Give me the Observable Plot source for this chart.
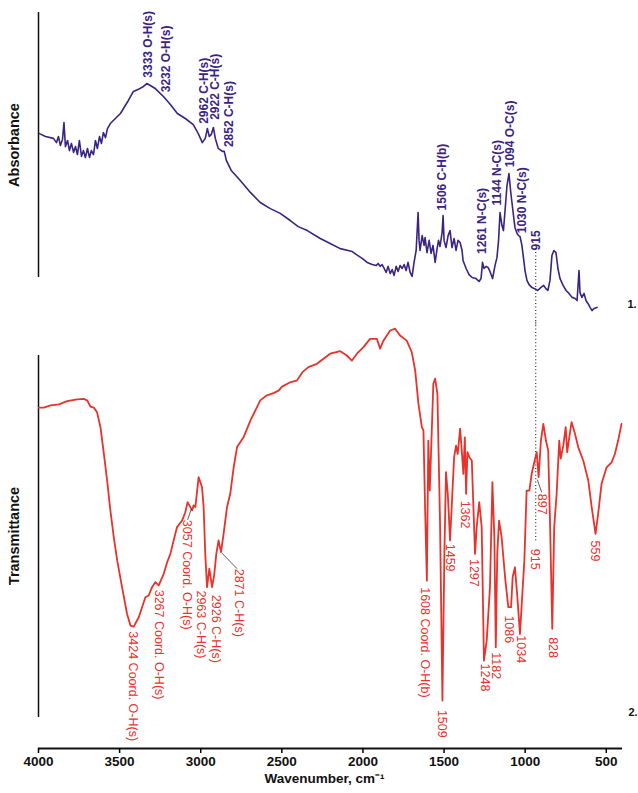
<!DOCTYPE html>
<html>
<head>
<meta charset="utf-8">
<script src="https://cdn.jsdelivr.net/npm/d3@7"></script>
<script src="https://cdn.jsdelivr.net/npm/@observablehq/plot@0.6"></script>
<style>
  html, body { margin: 0; padding: 0; background: #fff; }
  #chart svg { display: block; }
</style>
</head>
<body>
<div id="chart"></div>
<script>
// ---------- DATA ----------
const xTicks = [4000, 3500, 3000, 2500, 2000, 1500, 1000, 500];
const xDomain = [4000, 400];

// Spectrum 1 (absorbance, arbitrary units)
const absWn = [3994,3957,3908,3889,3877,3865,3852,3843,3834,3821,3809,3797,3784,3772,3760,3748,3735,3723,3711,3698,3686,3674,3661,3649,3637,3624,3612,3600,3587,3575,3557,3495,3446,3415,3384,3353,3332,3280,3230,3187,3144,3095,3046,3015,2990,2972,2959,2947,2935,2922,2910,2892,2867,2855,2842,2812,2756,2694,2633,2571,2510,2448,2399,2343,2263,2202,2140,2091,2066,2042,2005,1974,1943,1919,1906,1894,1882,1869,1857,1845,1832,1820,1808,1795,1783,1771,1758,1746,1734,1722,1709,1697,1685,1672,1660,1654,1648,1635,1623,1617,1605,1592,1580,1568,1555,1543,1534,1525,1512,1506,1500,1488,1475,1463,1451,1438,1426,1414,1401,1389,1383,1364,1346,1327,1303,1284,1272,1263,1254,1241,1229,1217,1201,1186,1174,1164,1155,1143,1134,1124,1112,1100,1088,1072,1063,1050,1041,1032,1020,1007,1001,989,977,958,941,923,904,886,872,860,847,835,823,810,798,785,766,748,730,711,692,680,674,668,662,650,637,625,613,600,588,576,557];
const absVal = [54.3,53.2,52.5,50.9,53.2,49.8,52.1,58.5,49.4,51.7,47.9,50.6,47.2,49.4,46.4,51.7,45.7,47.9,45.3,48.7,45.3,47.9,46.4,51.7,48.7,53.2,50.6,54.7,52.8,56.2,58.1,61.9,66.8,70.2,71.0,72.1,73.2,71.3,68.3,65.3,61.9,60.0,57.7,54.3,50.9,52.5,56.2,53.2,54.0,56.6,52.5,48.7,47.6,47.6,44.2,40.4,36.6,32.1,28.3,26.0,24.2,21.5,19.2,17.7,14.7,12.8,10.9,10.2,9.8,8.7,7.2,5.7,4.9,4.5,5.3,4.2,4.9,3.4,1.9,4.2,1.5,3.0,0.8,4.2,2.3,4.5,3.4,4.9,2.6,5.7,1.9,0.4,5.7,10.2,24.5,14.0,10.2,15.8,12.1,15.1,9.4,14.0,9.1,12.1,5.7,10.9,14.0,11.7,17.0,23.4,14.0,11.3,15.8,17.7,11.3,14.7,10.2,14.0,13.2,10.2,6.4,3.4,1.1,0,-0.4,-1.5,-0.4,5.7,3.4,4.2,3.8,2.3,-0.4,4.5,7.5,14.0,24.5,19.6,17.7,25.3,34.7,39.2,31.7,23.4,18.9,16.6,15.8,15.5,12.1,5.7,2.6,-1.1,-2.6,-3.8,-4.2,-4.9,-3.8,-3.0,-4.2,-4.9,-1.1,8.3,10.2,9.4,3.4,-0.4,-3.0,-4.9,-6.0,-7.5,-7.9,-8.7,-3.0,2.6,-5.7,-7.5,-6.0,-8.7,-9.8,-11.3,-12.5,-11.7,-11.3];

// Spectrum 2 (transmittance, arbitrary units)
const trWn = [3998,3967,3926,3875,3823,3762,3721,3700,3680,3659,3639,3618,3597,3577,3557,3536,3515,3485,3454,3433,3413,3382,3341,3321,3300,3280,3259,3228,3207,3187,3167,3146,3115,3095,3081,3064,3053,3044,3033,3013,2992,2982,2972,2961,2947,2930,2916,2904,2890,2875,2859,2838,2818,2797,2776,2736,2694,2633,2592,2551,2520,2499,2448,2407,2373,2336,2284,2243,2202,2140,2099,2068,2037,1997,1956,1914,1894,1874,1832,1802,1771,1730,1699,1678,1658,1637,1627,1617,1606,1597,1588,1566,1555,1541,1525,1510,1498,1488,1477,1463,1449,1438,1426,1416,1401,1391,1381,1372,1364,1356,1344,1329,1309,1299,1283,1268,1254,1237,1217,1202,1190,1181,1172,1161,1145,1124,1104,1087,1077,1063,1048,1032,1015,1005,991,974,960,946,929,917,903,888,872,858,847,833,821,806,790,781,765,750,741,728,714,693,673,642,611,590,566,550,529,498,467,447,427,406];
const trVal = [85.6,85.6,86.2,86.5,87.4,87.9,88.0,87.6,85.9,85.6,84.3,80.2,72.8,65.5,57.2,49.8,43.4,36.0,28.6,25.4,25.1,27.7,33.2,33.7,36.0,37.4,36.5,39.7,42.9,45.2,48.9,52.6,54.4,56.7,59.5,58.1,57.2,58.6,58.1,66.4,63.6,58.1,45.2,36.0,41.1,36.0,39.7,45.2,48.9,45.7,50.7,58.1,61.8,69.1,74.7,77.4,82.0,87.6,89.0,89.6,90.3,91.4,92.6,93.1,95.4,96.8,97.7,99.1,100.5,101.2,100.0,98.6,100.5,102.3,104.6,104.6,101.9,104.1,106.9,107.4,105.5,104.1,100.9,95.9,86.7,80.2,79.3,58.1,37.8,76.5,62.7,92.2,93.6,89.4,54.4,4.7,45.2,67.8,61.8,48.9,61.8,71.9,75.1,72.8,79.8,73.8,67.3,77.4,61.8,73.3,71.9,71.0,45.2,52.6,59.5,52.6,15.7,21.3,36.0,65.0,49.8,19.4,45.2,54.4,49.8,38.8,30.5,30.5,38.8,41.5,33.2,23.1,36.0,43.4,62.7,62.7,67.3,70.1,73.3,66.4,76.5,81.1,76.5,73.8,54.4,24.5,52.6,61.8,76.5,71.5,75.1,80.2,73.3,77.4,81.6,78.4,74.7,71.0,65.5,58.1,50.7,56.3,64.6,69.1,70.5,72.8,76.5,81.1];

// Peak annotations, spectrum 1
const absLabelText = ["3333 O-H(s)","3232 O-H(s)","2962 C-H(s)","2922 C-H(s)","2852 C-H(s)","1506 C-H(b)","1261 N-C(s)","1144 N-C(s)","1094 O-C(s)","1030 N-C(s)","915"];
const absLabelWn = [3325,3212,2978,2910,2826,1514,1268,1175,1093,1021,935];
const absLabelLevel = [75.4,69.9,58.0,59.5,49.2,25.3,8.9,27.2,41.6,16.7,10.2];

// Peak annotations, spectrum 2
const trLabelText = ["3424 Coord. O-H(s)","3267 Coord. O-H(s)","3057 Coord. O-H(s)","2963 C-H(s)","2926 C-H(s)","2871 C-H(s)","1608 Coord. O-H(b)","1509","1459","1362","1297","1248","1182","1086","1034","915","897","828","559"];
const trLabelWn = [3419,3257,3084,2998,2908,2764,1617,1514,1463,1371,1315,1247,1181,1098,1028,940,895,831,570];
const trLabelLevel = [23.8,35.3,54.6,35.1,33.9,41.1,36.0,2.1,48.0,59.9,43.8,14.9,18.0,28.2,22.7,46.6,61.8,22.2,48.9];

// Leader lines (spectrum 2)
const leaderWn1 = [3058, 2869, 925];
const leaderT1  = [57.6, 45.4, 65.7];
const leaderWn2 = [3081, 2776, 898];
const leaderT2  = [54.6, 41.1, 62.2];

// 915 cm-1 dotted marker
const markerWn = 935;
const markerAbsSpan = [9.4, -18];
const markerTrSpan = [112, 48.4];

const panelIds = ["1.", "2."];
const yTitles = ["Absorbance", "Transmittance"];
const xTitle = "Wavenumber, cm\u207B\u00B9";

// ---------- BUILD ----------
const absRows = absWn.map((wn, i) => ({wn, v: absVal[i]}));
const trRows = trWn.map((wn, i) => ({wn, v: trVal[i]}));
const absLabels = absLabelText.map((t, i) => ({t, wn: absLabelWn[i], v: absLabelLevel[i]}));
const trLabels = trLabelText.map((t, i) => ({t, wn: trLabelWn[i], v: trLabelLevel[i]}));
const leaders = leaderWn1.map((w, i) => ({x1: w, y1: leaderT1[i], x2: leaderWn2[i], y2: leaderT2[i]}));

const purple = "#3a2482";
const red = "#e8322b";
const font = "'Liberation Sans', Arial, Helvetica, sans-serif";

const topPanel = Plot.plot({
  width: 638, height: 320,
  marginTop: 12, marginBottom: 43, marginLeft: 38, marginRight: 16,
  x: {domain: xDomain, axis: null},
  y: {domain: [0, 100], axis: null},
  style: {fontFamily: font, background: "white", overflow: "visible"},
  marks: [
    Plot.ruleX([xDomain[0]], {y1: 0, y2: 100, stroke: "#111", strokeWidth: 1.5}),
    Plot.ruleX([markerWn], {y1: markerAbsSpan[0], y2: markerAbsSpan[1], stroke: "#333", strokeWidth: 1.2, strokeDasharray: "1 2.4"}),
    Plot.line(absRows, {x: "wn", y: "v", stroke: purple, strokeWidth: 1.6, strokeLinejoin: "round"}),
    Plot.text(absLabels, {x: "wn", y: "v", text: "t", rotate: -90, textAnchor: "start", fill: purple, fontWeight: "bold", fontSize: 12}),
    Plot.text([yTitles[0]], {frameAnchor: "left", textAnchor: "middle", dx: -24, rotate: -90, fontWeight: "bold", fontSize: 14.5, fill: "#111"}),
    Plot.text([panelIds[0]], {frameAnchor: "bottom-right", dx: 5, dy: 30, textAnchor: "start", fontWeight: "bold", fontSize: 11, fill: "#111"})
  ]
});

const bottomPanel = Plot.plot({
  width: 638, height: 473,
  marginTop: 35, marginBottom: 45, marginLeft: 38, marginRight: 16,
  insetBottom: 31,
  x: {domain: xDomain},
  y: {domain: [0, 100], axis: null},
  style: {fontFamily: font, background: "white", overflow: "hidden"},
  marks: [
    Plot.ruleX([xDomain[0]], {y1: 0, y2: 100, stroke: "#111", strokeWidth: 1.5}),
    Plot.ruleY([0], {dy: 31, stroke: "#111", strokeWidth: 1.8}),
    Plot.axisX({ticks: xTicks, tickFormat: d => `${d}`, tickSize: 5, tickPadding: 3, strokeWidth: 1.5, fontSize: 13.5, fontWeight: "bold", label: null, fill: "#111"}),
    Plot.ruleX([markerWn], {y1: markerTrSpan[0], y2: markerTrSpan[1], stroke: "#333", strokeWidth: 1.2, strokeDasharray: "1 2.4"}),
    Plot.line(trRows, {x: "wn", y: "v", stroke: red, strokeWidth: 1.8, strokeLinejoin: "round"}),
    Plot.link(leaders, {x1: "x1", y1: "y1", x2: "x2", y2: "y2", stroke: "#333", strokeWidth: 0.8}),
    Plot.text(trLabels, {x: "wn", y: "v", text: "t", rotate: 90, textAnchor: "start", fill: red, fontSize: 12.5}),
    Plot.text([yTitles[1]], {frameAnchor: "left", textAnchor: "middle", dx: -24, dy: -16, rotate: -90, fontWeight: "bold", fontSize: 14.5, fill: "#111"}),
    Plot.text([xTitle], {frameAnchor: "bottom", lineAnchor: "middle", dx: -6, dy: 30, fontWeight: "bold", fontSize: 13.5, fill: "#111"}),
    Plot.text([panelIds[1]], {frameAnchor: "bottom-right", dx: 6, dy: -33, textAnchor: "start", fontWeight: "bold", fontSize: 11, fill: "#111"})
  ]
});

const chart = document.getElementById("chart");
chart.append(topPanel, bottomPanel);
</script>
</body>
</html>
